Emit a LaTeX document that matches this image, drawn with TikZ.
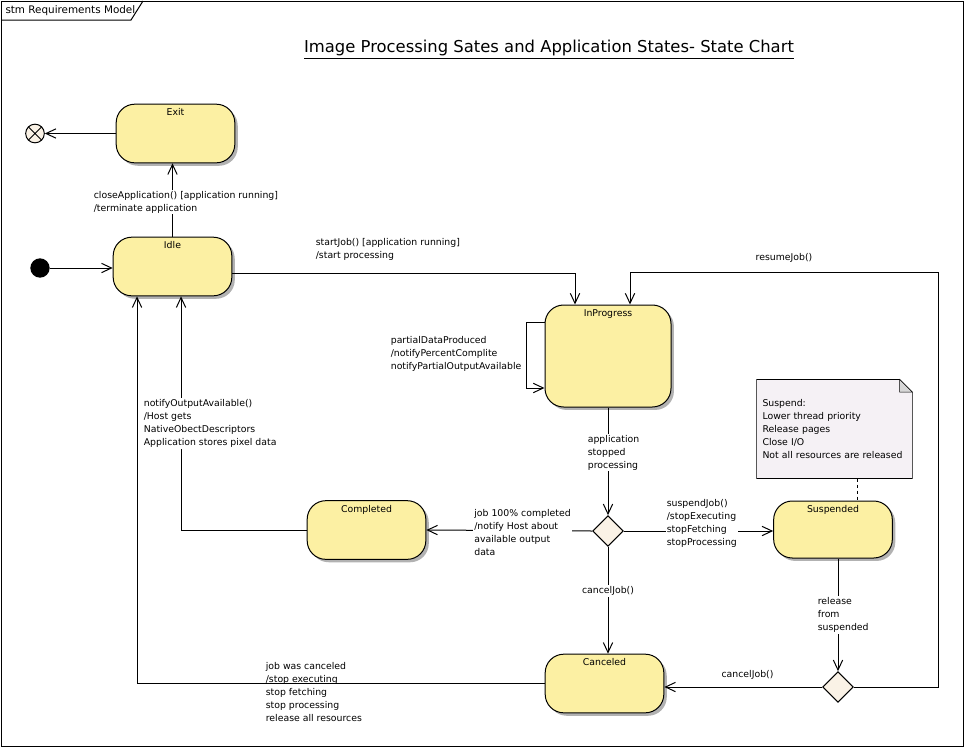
\documentclass[tikz,border=0pt]{standalone}
\usepackage{fontspec}
\setmainfont{DejaVu Sans}
\newfontfamily\titlefont{DejaVu Sans}
\usepackage{xcolor}
\usepackage{tikz}
\usetikzlibrary{arrows.meta,shapes.geometric,shadows,backgrounds}
\definecolor{stateyellow}{RGB}{252, 240, 163}
\definecolor{pseudobeige}{RGB}{250, 242, 230}
\definecolor{notelilac}{RGB}{245, 241, 245}
\definecolor{foldgray}{RGB}{215, 215, 215}

\begin{document}
\begin{tikzpicture}[x = 0.75pt, y = -0.75pt, line width = 0.75pt, >={Straight Barb[length = 7.5pt, width = 7pt]},
		lbl/.style = {font = \fontsize{7}{9.75}\selectfont, align = left, inner sep = 1pt},
		state/.style = {draw, rounded corners = 14pt, fill = stateyellow, minimum width = 89pt, minimum height = 44pt,
			drop shadow = {shadow xshift = 2.2pt, shadow yshift = -2.2pt, fill = black!30, opacity = 1},
			label = {[lbl, anchor = north, inner sep = 3.5pt]north:#1}},
		choice/.style = {draw, diamond, fill = pseudobeige, minimum size = 23pt, inner sep = 0pt}]
		\useasboundingbox (0,0) rectangle (964,747);
		\draw (1,1) rectangle (963,746);
		\draw (1,20) -- (131,20) -- (143,1);
		\node (frametitle) at (5,10.5) [anchor = west, inner sep = 0pt, font = \fontsize{7.8}{9}\selectfont] {stm Requirements Model};
		\node (title) at (549,49.5) [font = \titlefont\fontsize{12.3}{14}\selectfont] {\underline{Image Processing Sates and Application States- State Chart}};

		\node (init) at (40,268) [circle, fill = black, minimum size = 14.5pt, inner sep = 0pt] {};
		\node (final) at (35,133.5) [circle, draw, fill = pseudobeige, minimum size = 14pt, inner sep = 0pt,
			path picture = {\draw (path picture bounding box.north west) -- (path picture bounding box.south east)
				(path picture bounding box.north east) -- (path picture bounding box.south west);}] {};
		\node (exit) at (175.5,133.5) [state = Exit] {};
		\node (idle) at (172.5,266.5) [state = Idle] {};
		\node (inprogress) at (608,356) [state = InProgress, minimum width = 94.5pt, minimum height = 76.5pt] {};
		\node (completed) at (366.5,530) [state = Completed] {};
		\node (suspended) at (833,529.5) [state = Suspended, minimum height = 42.75pt] {};
		\node (canceled) at (604.5,683.5) [state = Canceled] {};
		\node (stopped) at (608,531) [choice] {};
		\node (released) at (838,687) [choice] {};
		\node (note) at (834.5,429) [lbl, minimum width = 116pt, minimum height = 73.5pt, text width = 108pt, inner sep = 4pt] {Suspend:\\Lower thread priority\\Release pages\\Close I/O\\Not all resources are released};
		\begin{scope}[on background layer]
			\draw[fill = notelilac] (note.north west) -- ([xshift = -9.5pt]note.north east) -- ([yshift = -9.5pt]note.north east) -- (note.south east) -- (note.south west) -- cycle;
			\draw[fill = foldgray] ([xshift = -9.5pt]note.north east) -- ([yshift = -9.5pt]note.north east) -- ([xshift = -9.5pt, yshift = -9.5pt]note.north east) -- cycle;
		\end{scope}
		\draw[dash pattern = on 2.25pt off 2.25pt] ([xshift = 17.6pt]note.south) -- ([xshift = 17.6pt]note.south |- suspended.north);

		\draw[->] (init) -- (init -| idle.west);
		\draw[->] (idle.north) -- (idle.north |- exit.south);
		\node (closelbl) at (92,202) [lbl, anchor = west, fill = white] {closeApplication() [application running]\\/terminate application};
		\draw[->] (exit.west) -- (final);
		\draw[->] ([yshift = -4.9pt]idle.east) -| ([xshift = -24.75pt]inprogress.north);
		\node (startlbl) at (314,249) [lbl, anchor = west] {startJob() [application running]\\/start processing};
		\coordinate (resumecorner) at (938,272);
		\draw[->] (released.east) -| (resumecorner) -| ([xshift = 16.5pt]inprogress.north);
		\node (resumelbl) at (784,258) [lbl] {resumeJob()};
		\draw[->] ([yshift = 25.5pt]inprogress.west) -- ++(-18,0) |- ([yshift = -24pt]inprogress.west);
		\node (partiallbl) at (389,354) [lbl, anchor = west] {partialDataProduced\\/notifyPercentComplite\\notifyPartialOutputAvailable};
		\draw[->] (inprogress.south) -- (stopped.north);
		\node (stoppedlbl) at (586,452.5) [lbl, anchor = west, fill = white] {application\\stopped\\processing};
		\draw[->] (stopped.west) -- (completed.east);
		\node (donelbl) at (472.5,532.5) [lbl, anchor = west, fill = white] {job 100\% completed\\/notify Host about\\available output\\data};
		\draw[->] (stopped.east) -- (stopped.east -| suspended.west);
		\node (suspendlbl) at (665,523.5) [lbl, anchor = west, fill = white] {suspendJob()\\/stopExecuting\\stopFetching\\stopProcessing};
		\draw[->] (stopped.south) -- (stopped.south |- canceled.north);
		\node (cancellbl) at (608,591) [lbl, fill = white] {cancelJob()};
		\draw[->] (released |- suspended.south) -- (released.north);
		\node (releaselbl) at (816,615) [lbl, anchor = west, fill = white] {release\\from\\suspended};
		\draw[->] (released.west) -- (released.west -| canceled.east);
		\node (cancelagainlbl) at (747.5,675) [lbl] {cancelJob()};
		\draw[->] (completed.west) -| ([xshift = 6.4pt]idle.south);
		\node (outputlbl) at (142,423.5) [lbl, anchor = west, fill = white] {notifyOutputAvailable()\\/Host gets\\NativeObectDescriptors\\Application stores pixel data};
		\draw[->] (canceled.west) -| ([xshift = -26.6pt]idle.south);
		\node (canceledlbl) at (264,692) [lbl, anchor = west] {job was canceled\\/stop executing\\stop fetching\\stop processing\\release all resources};
		\end{tikzpicture}
\end{document}
